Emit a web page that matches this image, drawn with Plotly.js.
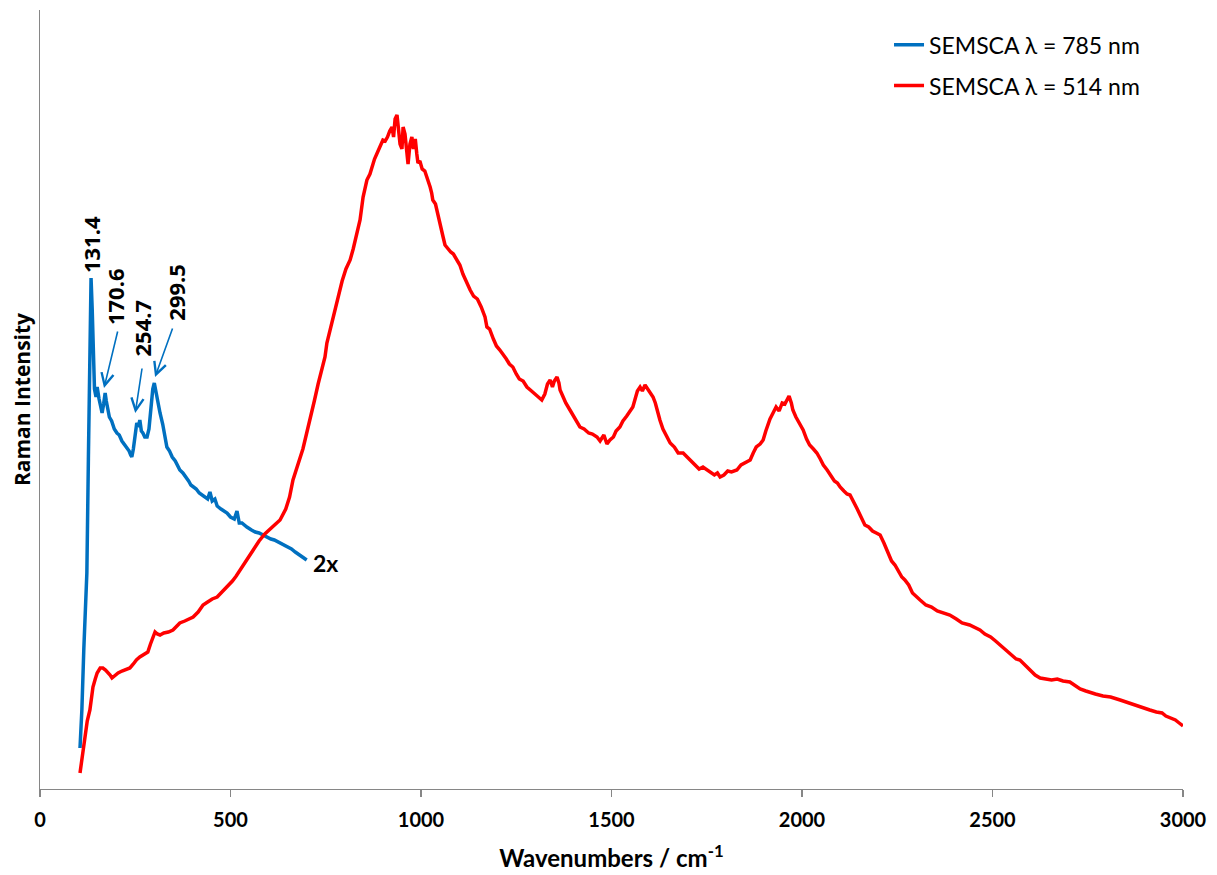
<!DOCTYPE html>
<html>
<head>
<meta charset="utf-8">
<script src="https://cdn.plot.ly/plotly-3.0.1.min.js"></script>
<style>html,body{margin:0;padding:0;background:#fff}#chart{width:1217px;height:875px}</style>
</head>
<body>
<div id="chart"></div>
<script>
// SEMSCA λ = 514 nm (red)
const red514_x = [105,112,118,124,131,139,145,150,158,165,172,178,184,189,197,205,215,225,236,245,253,262,272,283,290,296,302,308,315,325,337,349,358,367,380,392,402,415,428,440,452,465,478,491,505,515,525,535,543,560,575,590,605,618,630,645,655,664,675,690,700,709,720,730,740,748,753,763,772,783,793,803,814,822,830,840,848,853,858,866,872,878,885,892,900,906,912,918,924,928,932,937,941,945,950,953,958,962,966,971,976,980,985,989,992,997,1003,1010,1016,1020,1024,1028,1031,1038,1045,1052,1058,1063,1070,1078,1085,1092,1102,1110,1118,1129,1138,1148,1158,1168,1173,1180,1190,1198,1207,1215,1224,1232,1241,1250,1258,1268,1278,1290,1300,1308,1317,1325,1332,1339,1345,1350,1357,1362,1365,1372,1380,1391,1400,1408,1417,1428,1440,1450,1462,1470,1480,1488,1496,1505,1512,1522,1530,1540,1548,1556,1562,1568,1575,1581,1588,1595,1602,1609,1615,1620,1627,1635,1645,1654,1665,1675,1688,1698,1710,1720,1730,1740,1751,1760,1770,1778,1785,1795,1805,1815,1829,1840,1850,1864,1872,1880,1890,1898,1905,1910,1916,1924,1932,1940,1948,1955,1961,1966,1972,1976,1984,1992,2003,2012,2020,2030,2039,2048,2056,2066,2075,2085,2093,2100,2110,2118,2126,2135,2145,2155,2165,2175,2185,2195,2205,2215,2225,2235,2244,2255,2262,2270,2280,2290,2300,2310,2325,2340,2355,2370,2388,2405,2420,2440,2455,2467,2480,2495,2508,2520,2535,2550,2562,2572,2585,2600,2612,2625,2640,2655,2670,2685,2703,2715,2730,2745,2756,2770,2790,2810,2835,2850,2870,2890,2913,2930,2945,2955,2966,2980,2990,3000];
const red514_y = [16,35,56,68,79,102,110,116,121,121,119,117,114,111,114,116,118,119,121,125,129,132,134,137,145,152,157,155,154,156,157,159,162,166,168,170,172,177,184,187,190,192,197,202,208,213,219,224,229,240,248,255,260,264,269,280,292,309,322,340,356,369,388,405,420,432,446,462,478,495,508,520,529,540,552,569,592,600,609,615,624,630,636,643,649,648,652,658,662,652,670,674,660,645,640,662,655,635,625,645,652,640,650,635,626,628,620,618,612,607,602,596,589,585,572,560,552,544,540,537,535,530,524,515,508,499,493,490,482,472,462,460,450,443,439,435,430,425,422,415,410,408,402,398,395,392,389,395,405,409,402,408,412,406,399,393,386,379,373,368,362,360,356,355,352,348,354,345,349,352,358,362,368,373,378,382,390,398,402,398,404,400,396,392,386,378,369,360,352,346,342,336,336,332,328,324,320,322,319,316,314,316,312,314,318,317,319,324,326,329,336,342,345,349,358,364,370,376,382,378,386,385,389,393,386,379,372,366,359,350,344,340,336,330,324,319,313,308,306,302,298,295,294,288,280,272,264,262,258,256,254,246,236,228,224,216,212,209,204,196,192,189,184,182,178,176,174,170,166,164,161,159,155,152,148,144,138,134,130,129,124,118,114,111,110,109,110,108,107,104,100,98,97,95,93,92,89,87,84,82,79,77,76,73,71,69,66,63];

// SEMSCA λ = 785 nm (blue, shown 2x)
const blue785_x = [105,110,115,120,123,127,131,134,137,140,143,147,150,155,160,163,167,171,174,178,182,188,195,202,208,215,222,228,234,238,241,245,250,254,258,262,266,270,275,281,286,291,296,300,304,308,315,322,327,333,340,347,355,362,367,375,383,390,396,402,410,418,425,433,440,446,452,459,465,475,483,491,500,510,517,523,530,536,543,555,565,575,585,596,606,615,625,635,648,660,670,680,690,700];
const blue785_y = [41,80,140,190,216,330,470,511,480,420,400,392,402,390,380,376,385,396,388,378,372,368,360,356,354,348,344,342,338,334,332,340,352,366,362,369,358,356,352,352,360,385,400,406,398,386,376,365,356,342,338,332,328,322,319,316,312,308,304,302,300,296,294,292,290,297,288,290,283,280,278,276,272,270,278,266,266,264,262,259,257,256,254,252,250,249,247,245,242,240,237,234,232,229];

// Peak labels
const peakLabels = ["131.4","170.6","254.7","299.5"];
const seriesNames = ["SEMSCA λ = 785 nm","SEMSCA λ = 514 nm"];
const xTickVals = [0,500,1000,1500,2000,2500,3000];

const BLUE = "#0070C0", RED = "#FF0000";
const F = "Lato, 'Open Sans', sans-serif";
const FB = "'Open Sans', Lato, sans-serif";

const traces = [
  {x: blue785_x, y: blue785_y, type: "scatter", mode: "lines", name: seriesNames[0],
   legendgroup: "a", line: {color: BLUE, width: 3.5}},
  {x: red514_x, y: red514_y, type: "scatter", mode: "lines", name: seriesNames[1],
   legendgroup: "b", line: {color: RED, width: 3.5}}
];

const lab = [
  {x: 134, y: 544, t: peakLabels[0]},
  {x: 197, y: 492, t: peakLabels[1]},
  {x: 269, y: 461, t: peakLabels[2]},
  {x: 356, y: 497, t: peakLabels[3]}
];
const annotations = lab.map(l => ({
  x: l.x, y: l.y, xref: "x", yref: "y", text: "<b>" + l.t + "</b>", textangle: -90,
  showarrow: false, xanchor: "center", yanchor: "middle",
  font: {family: FB, size: 22, color: "#000", weight: "bold"}
}));
const arrows = [
  {x: 168, y: 401, ax: 14, ay: -58},
  {x: 250, y: 376, ax: 7, ay: -46},
  {x: 302, y: 412, ax: 18, ay: -50}
];
arrows.forEach(a => annotations.push({
  x: a.x, y: a.y, xref: "x", yref: "y", ax: a.ax, ay: a.ay, axref: "pixel", ayref: "pixel",
  text: "", showarrow: true, arrowhead: 5, arrowsize: 1.5, arrowwidth: 1.6, arrowcolor: BLUE
}));
annotations.push({
  x: 712, y: 226, xref: "x", yref: "y", text: "<b>2x</b>", showarrow: false,
  xanchor: "left", yanchor: "middle", font: {family: F, size: 23, color: "#000", weight: "bold"}
});

const layout = {
  width: 1217, height: 875,
  margin: {l: 40, r: 34, t: 10, b: 86},
  paper_bgcolor: "#fff", plot_bgcolor: "#fff",
  font: {family: F, color: "#000"},
  showlegend: true,
  legend: {x: 0.7428, y: 0.983, xanchor: "left", yanchor: "top",
    font: {family: F, size: 23, color: "#000"}, traceorder: "grouped", tracegroupgap: 8,
    bgcolor: "rgba(0,0,0,0)"},
  xaxis: {range: [0, 3000], tickvals: xTickVals, ticktext: xTickVals.map(String),
    showgrid: false, zeroline: false, showline: true, linecolor: "#868686", linewidth: 1.3,
    ticks: "outside", ticklen: 7, tickcolor: "#868686", tickwidth: 1.3, ticklabelstandoff: 6,
    tickfont: {family: F, size: 20, color: "#000", weight: "bold"},
    title: {text: "<b>Wavenumbers / cm<sup>-1</sup></b>", font: {family: F, size: 24, color: "#000", weight: "bold"}, standoff: 20}},
  yaxis: {range: [0, 779], showgrid: false, zeroline: false, showline: true, linecolor: "#868686",
    linewidth: 1.3, ticks: "", showticklabels: false,
    title: {text: "<b>Raman Intensity</b>", font: {family: FB, size: 21, color: "#000", weight: "bold"}, standoff: 2}},
  annotations: annotations
};

Plotly.newPlot("chart", traces, layout, {displayModeBar: false, staticPlot: true});
</script>
</body>
</html>
